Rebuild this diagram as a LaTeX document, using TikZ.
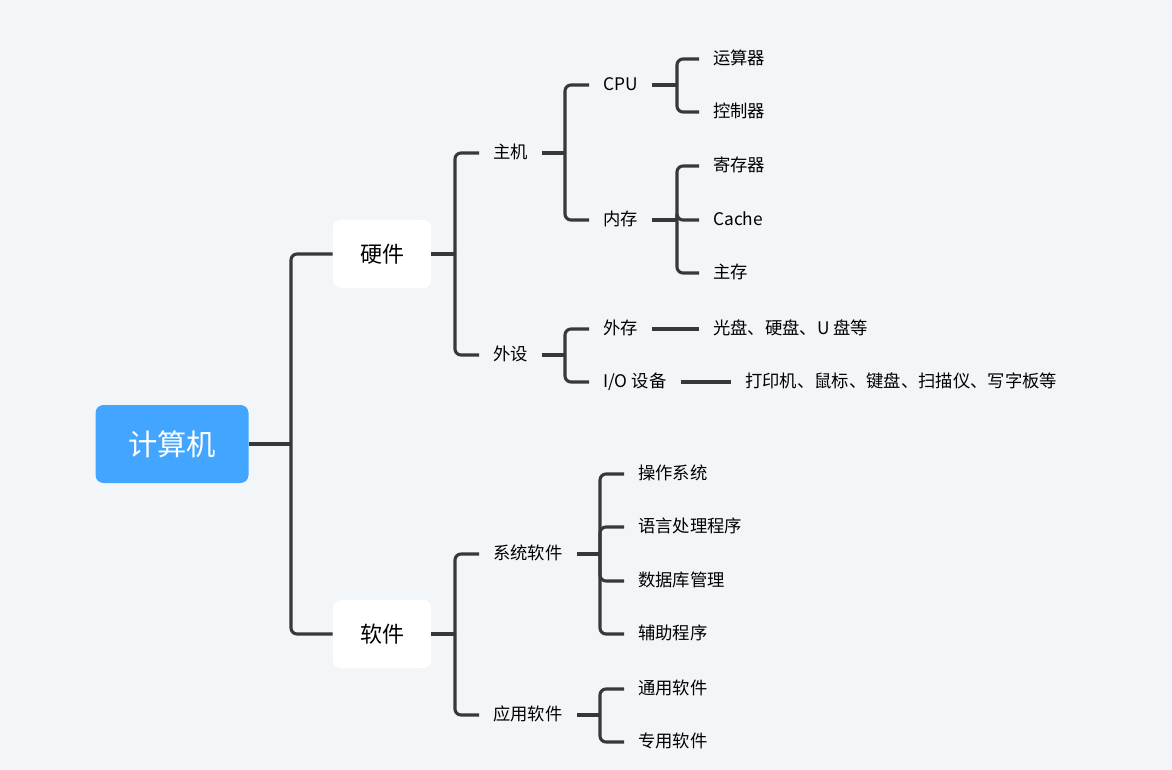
\documentclass[tikz,border=0pt]{standalone}
\usepackage{fontspec}
\setmainfont{Noto Sans CJK SC}
\usetikzlibrary{positioning}
\definecolor{bgc}{HTML}{F3F6F9}
\definecolor{rootblue}{HTML}{42A5FF}
\definecolor{linec}{HTML}{383838}
\tikzset{
  x=0.75pt, y=-0.75pt, % one unit is one pixel of the picture
  branch/.style={draw=linec, line width=2.3pt, rounded corners=4.5pt}, % the elbow lines
  rootbox/.style={fill=rootblue, text=white, rounded corners=6pt, minimum width=114.75pt, minimum height=58.5pt, font=\fontsize{22}{26}\selectfont},
  mainbox/.style={fill=white, rounded corners=6pt, minimum width=73.5pt, minimum height=51pt, font=\fontsize{16.5}{20}\selectfont},
  leaf/.style={anchor=west, inner xsep=10.5pt, inner ysep=0pt, text height=0.88em, text depth=0.12em, font=\fontsize{13}{15}\selectfont},
}
\begin{document}
\begin{tikzpicture}
    \fill[bgc] (0,0) rectangle (1172,770);
    \useasboundingbox (0,0) rectangle (1172,770);
    % main boxes
    \node[rootbox] (root) at (172,444) {计算机};
    \node[mainbox] (hw) at (382,254) {硬件};
    \node[mainbox] (sw) at (382,634) {软件};
    % hardware
    \node[leaf] (zhuji) at (479,153) {主机};
    \node[leaf] (waishe) at (479,355) {外设};
    \node[leaf] (cpu) at (589,85) {CPU};
    \node[leaf] (neicun) at (589,220) {内存};
    \node[leaf] (yunsuan) at (699,59) {运算器};
    \node[leaf] (kongzhi) at (699,112) {控制器};
    \node[leaf] (jicun) at (699,166) {寄存器};
    \node[leaf] (cache) at (699,220) {Cache};
    \node[leaf] (zhucun) at (699,273) {主存};
    \node[leaf] (waicun) at (589,329) {外存};
    \node[leaf] (io) at (589,382) {I/O 设备};
    \node[leaf] (guangpan) at (699,329) {光盘、硬盘、U 盘等};
    \node[leaf] (dayin) at (731,382) {打印机、鼠标、键盘、扫描仪、写字板等};
    % software
    \node[leaf] (xitong) at (479,554) {系统软件};
    \node[leaf] (yingyong) at (479,715) {应用软件};
    \node[leaf] (caozuo) at (624,474) {操作系统};
    \node[leaf] (yuyan) at (624,527) {语言处理程序};
    \node[leaf] (shuju) at (624,581) {数据库管理};
    \node[leaf] (fuzhu) at (624,634) {辅助程序};
    \node[leaf] (tongyong) at (624,689) {通用软件};
    \node[leaf] (zhuanyong) at (624,742) {专用软件};
    % junctions
    \coordinate (j0) at (291,444);
    \coordinate (jhw) at (455,254);
    \coordinate (jsw) at (455,634);
    \coordinate (jzj) at (565,153);
    \coordinate (jws) at (565,355);
    \coordinate (jcpu) at (677,85);
    \coordinate (jnc) at (677,220);
    \coordinate (jxt) at (600,554);
    \coordinate (jyy) at (600,715);
    % connectors
    \draw[branch] (root) -- (j0);
    \foreach \c in {hw,sw} \draw[branch] (j0) |- (\c.west);
    \draw[branch] (hw) -- (jhw);
    \foreach \c in {zhuji,waishe} \draw[branch] (jhw) |- (\c.west);
    \draw[branch] (zhuji) -- (jzj);
    \foreach \c in {cpu,neicun} \draw[branch] (jzj) |- (\c.west);
    \draw[branch] (cpu) -- (jcpu);
    \foreach \c in {yunsuan,kongzhi} \draw[branch] (jcpu) |- (\c.west);
    \draw[branch] (neicun) -- (jnc);
    \foreach \c in {jicun,cache,zhucun} \draw[branch] (jnc) |- (\c.west);
    \draw[branch] (waishe) -- (jws);
    \foreach \c in {waicun,io} \draw[branch] (jws) |- (\c.west);
    \draw[branch] (waicun) -- (guangpan);
    \draw[branch] (io) -- (dayin);
    \draw[branch] (sw) -- (jsw);
    \foreach \c in {xitong,yingyong} \draw[branch] (jsw) |- (\c.west);
    \draw[branch] (xitong) -- (jxt);
    \foreach \c in {caozuo,yuyan,shuju,fuzhu} \draw[branch] (jxt) |- (\c.west);
    \draw[branch] (yingyong) -- (jyy);
    \foreach \c in {tongyong,zhuanyong} \draw[branch] (jyy) |- (\c.west);
\end{tikzpicture}
\end{document}
